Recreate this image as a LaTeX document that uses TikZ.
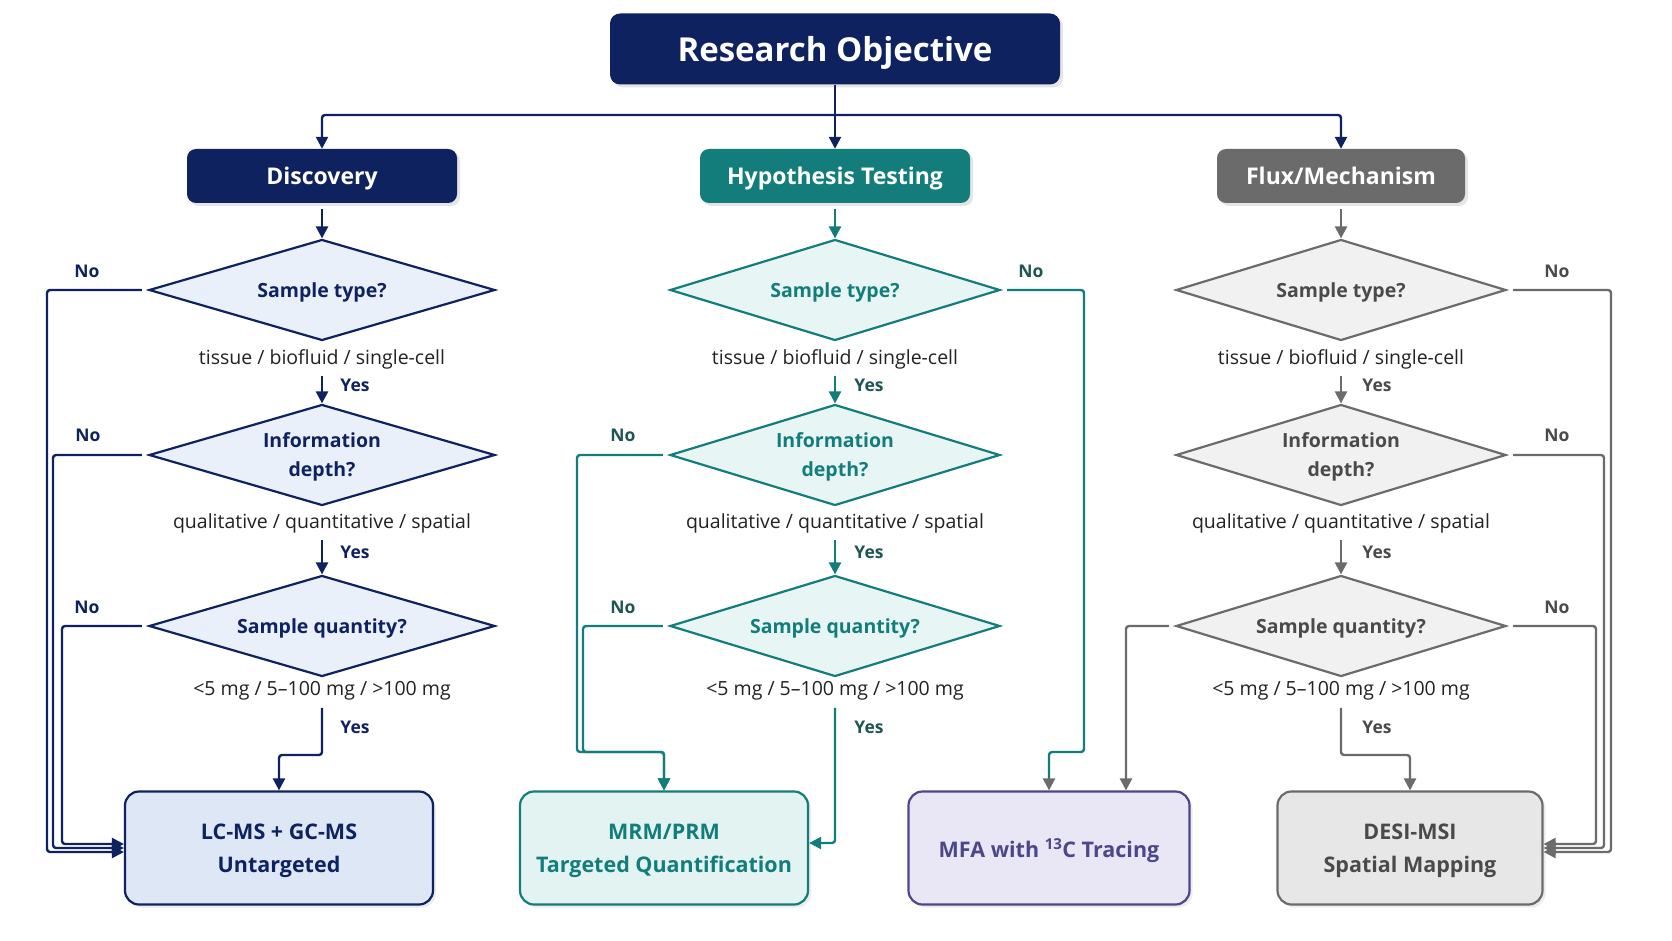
\documentclass[tikz,border=0pt]{standalone}
\usepackage{fontspec}
\setmainfont{Open Sans}
\usetikzlibrary{shapes.geometric,arrows.meta,shadows}
\definecolor{navy}{HTML}{0F2260}
\definecolor{tealc}{HTML}{137D7B}
\definecolor{tealdark}{HTML}{1D5653}
\definecolor{greyc}{HTML}{6B6B6B}
\definecolor{greydark}{HTML}{4A4A4A}
\definecolor{purp}{HTML}{4C4788}
\definecolor{navyfill}{HTML}{EAF0FA}
\definecolor{navybox}{HTML}{DEE7F5}
\definecolor{tealfill}{HTML}{E7F5F4}
\definecolor{tealbox}{HTML}{E3F3F2}
\definecolor{greyfill}{HTML}{F1F1F1}
\definecolor{greybox}{HTML}{E7E7E7}
\definecolor{purpbox}{HTML}{E9E7F6}
\definecolor{labeltext}{HTML}{222222}

\begin{document}
\begin{tikzpicture}[x=1pt, y=-1pt,
    head/.style={rounded corners=9pt, text=white, minimum height=54pt, text depth=0pt,
      font=\fontsize{23}{27}\selectfont\bfseries,
      drop shadow={opacity=0.2, shadow xshift=3pt, shadow yshift=-3pt}},
    ask/.style={diamond, aspect=3.4, draw, line width=2.2pt, inner sep=0pt, text depth=0pt,
      minimum height=101pt, align=center, font=\fontsize{19.5}{29}\selectfont\bfseries},
    opt/.style={text=labeltext, font=\fontsize{19.5}{22}\selectfont},
    answer/.style={font=\fontsize{17.5}{22}\selectfont\bfseries},
    method/.style={rounded corners=14pt, draw, line width=2.2pt, minimum height=113pt,
      text depth=0pt, align=center, font=\fontsize{21.5}{33}\selectfont\bfseries,
      drop shadow={opacity=0.15, shadow xshift=3pt, shadow yshift=-3pt}},
    arr/.style={-{Triangle[length=12pt, width=12pt]}, line width=2.4pt, rounded corners=3pt}
  ]
  \useasboundingbox[fill=white] (0,0) rectangle (1672,941);

  \node[head, fill=navy, minimum width=450pt, minimum height=71pt, rounded corners=10pt,
    font=\fontsize{33}{38}\selectfont\bfseries] (obj) at (835,49) {Research Objective};
  \node[head, fill=navy, minimum width=270pt] (disc) at (322,176) {Discovery};
  \node[head, fill=tealc, minimum width=270pt] (hyp) at (835,176) {Hypothesis Testing};
  \node[head, fill=greyc, minimum width=248pt] (flux) at (1341,176) {Flux/Mechanism};

  \coordinate (bus) at (835,115);
  \draw[arr, navy] (obj) -- (hyp);
  \draw[arr, navy] (bus) -| (disc);
  \draw[arr, navy] (bus) -| (flux);

  \node[ask, draw=navy, fill=navyfill, text=navy, minimum width=346pt] (d1) at (322,290) {Sample type?};
  \node[ask, draw=navy, fill=navyfill, text=navy, minimum width=346pt] (d2) at (322,455) {Information\\depth?};
  \node[ask, draw=navy, fill=navyfill, text=navy, minimum width=346pt] (d3) at (322,626) {Sample quantity?};
  \node[opt] (dl1) at (322,359) {tissue / biofluid / single-cell};
  \node[opt] (dl2) at (322,523) {qualitative / quantitative / spatial};
  \node[opt] (dl3) at (322,691) {<5 mg / 5–100 mg / >100 mg};
  \node[answer, text=navy] (dy1) at (355,385) {Yes};
  \node[answer, text=navy] (dy2) at (355,552) {Yes};
  \node[answer, text=navy] (dy3) at (355,727) {Yes};
  \node[answer, text=navy] (dn1) at (87,271) {No};
  \node[answer, text=navy] (dn2) at (88,435) {No};
  \node[answer, text=navy] (dn3) at (87,607) {No};

  \node[ask, draw=tealc, fill=tealfill, text=tealc, minimum width=330pt] (h1) at (835,290) {Sample type?};
  \node[ask, draw=tealc, fill=tealfill, text=tealc, minimum width=330pt] (h2) at (835,455) {Information\\depth?};
  \node[ask, draw=tealc, fill=tealfill, text=tealc, minimum width=330pt] (h3) at (835,626) {Sample quantity?};
  \node[opt] (hl1) at (835,359) {tissue / biofluid / single-cell};
  \node[opt] (hl2) at (835,523) {qualitative / quantitative / spatial};
  \node[opt] (hl3) at (835,691) {<5 mg / 5–100 mg / >100 mg};
  \node[answer, text=tealdark] (hy1) at (869,385) {Yes};
  \node[answer, text=tealdark] (hy2) at (869,552) {Yes};
  \node[answer, text=tealdark] (hy3) at (869,727) {Yes};
  \node[answer, text=tealdark] (hn1) at (1031,271) {No};
  \node[answer, text=tealdark] (hn2) at (623,435) {No};
  \node[answer, text=tealdark] (hn3) at (623,607) {No};

  \node[ask, draw=greyc, fill=greyfill, text=greydark, minimum width=330pt] (f1) at (1341,290) {Sample type?};
  \node[ask, draw=greyc, fill=greyfill, text=greydark, minimum width=330pt] (f2) at (1341,455) {Information\\depth?};
  \node[ask, draw=greyc, fill=greyfill, text=greydark, minimum width=330pt] (f3) at (1341,626) {Sample quantity?};
  \node[opt] (fl1) at (1341,359) {tissue / biofluid / single-cell};
  \node[opt] (fl2) at (1341,523) {qualitative / quantitative / spatial};
  \node[opt] (fl3) at (1341,691) {<5 mg / 5–100 mg / >100 mg};
  \node[answer, text=greydark] (fy1) at (1377,385) {Yes};
  \node[answer, text=greydark] (fy2) at (1377,552) {Yes};
  \node[answer, text=greydark] (fy3) at (1377,727) {Yes};
  \node[answer, text=greydark] (fn1) at (1557,271) {No};
  \node[answer, text=greydark] (fn2) at (1557,435) {No};
  \node[answer, text=greydark] (fn3) at (1557,607) {No};

  \node[method, draw=navy, fill=navybox, text=navy, minimum width=308pt] (lcms) at (279,848) {LC-MS + GC-MS\\Untargeted};
  \node[method, draw=tealc, fill=tealbox, text=tealc, minimum width=288pt] (mrm) at (664,848) {MRM/PRM\\Targeted Quantification};
  \node[method, draw=purp, fill=purpbox, text=purp, minimum width=281pt] (mfa) at (1049,848) {MFA with \textsuperscript{13}C Tracing};
  \node[method, draw=greyc, fill=greybox, text=greydark, minimum width=265pt] (desi) at (1410,848) {DESI-MSI\\Spatial Mapping};

  \draw[arr, navy, shorten <=6pt] (disc) -- (d1);
  \draw[arr, navy, shorten <=4pt] (dl1) -- (d2);
  \draw[arr, navy, shorten <=4pt] (dl2) -- (d3);
  \coordinate (dbend) at (322,755);
  \draw[arr, navy, shorten <=4pt] (dl3) -- (dbend) -| (lcms);
  \coordinate (dx1) at (47,0);
  \coordinate (dx2) at (53,0);
  \coordinate (dx3) at (62,0);
  \draw[arr, navy, shorten <=6pt] (d1.west) -- (d1.west -| dx1) |- ([yshift=-4pt]lcms.west);
  \draw[arr, navy, shorten <=6pt] (d2.west) -- (d2.west -| dx2) |- (lcms.west);
  \draw[arr, navy, shorten <=6pt] (d3.west) -- (d3.west -| dx3) |- ([yshift=4pt]lcms.west);

  \draw[arr, tealc, shorten <=6pt] (hyp) -- (h1);
  \draw[arr, tealc, shorten <=4pt] (hl1) -- (h2);
  \draw[arr, tealc, shorten <=4pt] (hl2) -- (h3);
  \draw[arr, tealc, shorten <=4pt] (hl3) |- ([yshift=5pt]mrm.east);
  \coordinate (hx1) at (1084,752);
  \coordinate (hx2) at (577,752);
  \coordinate (hx3) at (583,752);
  \draw[arr, tealc, -{Triangle[length=12pt, width=12pt, color=greyc]}, shorten <=6pt]
    (h1.east) -- (h1.east -| hx1) -- (hx1) -| (mfa);
  \draw[arr, tealc, shorten <=6pt] (h2.west) -- (h2.west -| hx2) -- (hx2) -| (mrm);
  \draw[arr, tealc, shorten <=6pt] (h3.west) -- (h3.west -| hx3) -- (hx3) -| (mrm);

  \draw[arr, greyc, shorten <=6pt] (flux) -- (f1);
  \draw[arr, greyc, shorten <=4pt] (fl1) -- (f2);
  \draw[arr, greyc, shorten <=4pt] (fl2) -- (f3);
  \coordinate (fbend) at (1341,755);
  \draw[arr, greyc, shorten <=4pt] (fl3) -- (fbend) -| (desi);
  \draw[arr, greyc, shorten <=6pt] (f3.west) -| ([xshift=77pt]mfa.north);
  \coordinate (fx1) at (1611,0);
  \coordinate (fx2) at (1604,0);
  \coordinate (fx3) at (1596,0);
  \draw[arr, greyc, shorten <=6pt] (f1.east) -- (f1.east -| fx1) |- ([yshift=-4pt]desi.east);
  \draw[arr, greyc, shorten <=6pt] (f2.east) -- (f2.east -| fx2) |- (desi.east);
  \draw[arr, greyc, shorten <=6pt] (f3.east) -- (f3.east -| fx3) |- ([yshift=4pt]desi.east);
\end{tikzpicture}
\end{document}
